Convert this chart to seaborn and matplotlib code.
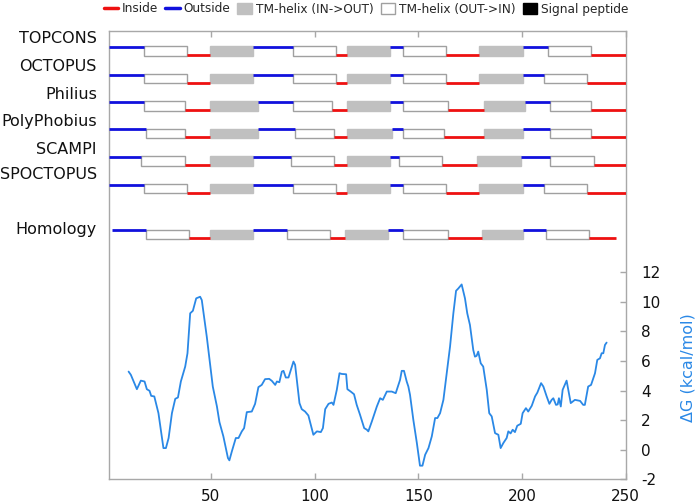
import numpy as np
import pandas as pd
import matplotlib
matplotlib.use("Agg")
import matplotlib.pyplot as plt
import seaborn as sns
from matplotlib.lines import Line2D
from matplotlib.patches import Patch

# ---------------- data ----------------
methods = ["TOPCONS", "OCTOPUS", "Philius", "PolyPhobius", "SCAMPI", "SPOCTOPUS", "Homology"]
# segment states between consecutive boundaries: o=outside, w=TM (OUT->IN), i=inside, g=TM (IN->OUT)
states = ["o", "w", "i", "g", "o", "w", "i", "g", "o", "w", "i", "g", "o", "w", "i"]
topcons_bounds = [1, 17.5, 38.5, 49.5, 70.5, 89.5, 110.5, 115.5, 136.5, 142.5, 163.5, 179.5, 200.5, 212.5, 233.5, 250]
octopus_bounds = [1, 17.5, 38.5, 49.5, 70.5, 89.5, 110.5, 115.5, 136.5, 142.5, 163.5, 179.5, 200.5, 210.5, 231.5, 250]
philius_bounds = [1, 17.5, 37.5, 49.5, 72.5, 89.5, 108.5, 115.5, 136.5, 142.5, 164.5, 181.5, 201.5, 213.5, 233.5, 250]
polyphobius_bounds = [1, 18.5, 37.5, 49.5, 72.5, 90.5, 109.5, 115.5, 137.5, 142.5, 162.5, 181.5, 200.5, 213.5, 233.5, 250]
scampi_bounds = [1, 16.5, 37.5, 49.5, 70.5, 88.5, 109.5, 115.5, 136.5, 140.5, 161.5, 178.5, 199.5, 213.5, 234.5, 250]
spoctopus_bounds = [1, 17.5, 38.5, 49.5, 70.5, 89.5, 110.5, 115.5, 136.5, 142.5, 163.5, 179.5, 200.5, 210.5, 231.5, 250]
homology_bounds = [2.5, 18.5, 39.5, 49.5, 70.5, 86.5, 107.5, 114.5, 135.5, 142.5, 164.5, 180.5, 200.5, 211.5, 232.5, 245.5]

dg_pos = [10.3, 11.4, 14.3, 16.2, 18.0, 19.1, 20.4, 21.2, 22.7, 24.7, 27.1, 28.3, 29.6, 31.2, 32.8, 34.1,
          35.5, 37.6, 38.7, 40.0, 41.3, 42.9, 44.8, 45.6, 48.0, 50.9, 52.9, 54.1, 56.0, 58.2, 58.9, 60.1,
          62.0, 63.3, 64.9, 66.0, 67.3, 69.7, 71.3, 72.9, 74.5, 76.1, 78.1, 79.4, 81.0, 81.8, 83.0, 84.2,
          85.0, 86.1, 87.4, 89.8, 90.6, 92.7, 93.8, 95.4, 97.0, 99.4, 101.1, 103.0, 104.0, 105.1, 106.7,
          108.3, 109.1, 110.7, 112.0, 113.1, 115.2, 115.8, 117.4, 119.0, 120.3, 121.9, 123.9, 125.2, 125.9,
          127.6, 130.0, 131.6, 132.9, 134.8, 137.2, 139.1, 141.2, 142.0, 143.1, 144.4, 145.2, 146.0, 147.6,
          149.3, 150.8, 152.0, 153.3, 154.9, 156.5, 158.1, 159.2, 160.5, 162.1, 163.7, 165.3, 166.9, 168.2,
          169.3, 170.9, 172.5, 173.6, 174.9, 176.5, 177.3, 178.1, 178.9, 180.1, 181.3, 183.0, 184.2, 185.4,
          187.0, 188.6, 189.7, 191.0, 192.6, 193.4, 194.5, 195.5, 196.6, 197.7, 199.4, 200.3, 201.9, 203.0,
          204.7, 206.3, 207.4, 209.2, 210.3, 211.9, 213.2, 214.3, 215.1, 216.4, 217.2, 217.8, 218.7, 219.6,
          221.5, 222.3, 223.5, 225.5, 228.0, 229.5, 230.3, 231.9, 233.3, 235.2, 236.3, 237.6, 238.4, 239.2,
          240.0, 240.8]
dg_val = [5.28, 5.06, 4.09, 4.67, 4.61, 4.09, 3.98, 3.64, 3.60, 2.47, 0.11, 0.11, 0.79, 2.47, 3.44, 3.53,
          4.61, 5.62, 6.52, 9.22, 9.39, 10.23, 10.34, 10.11, 7.64, 4.27, 2.92, 1.87, 0.90, -0.56, -0.72, -0.11,
          0.79, 0.79, 1.24, 1.46, 2.54, 2.58, 3.10, 4.23, 4.38, 4.77, 4.79, 4.65, 4.38, 4.61, 4.56, 5.28,
          5.33, 4.88, 4.88, 5.96, 5.73, 3.15, 2.74, 2.58, 2.31, 1.01, 1.24, 1.19, 1.46, 2.74, 3.10,
          3.19, 3.03, 4.05, 5.17, 5.12, 5.10, 4.09, 3.93, 3.75, 3.03, 2.36, 1.46, 1.35, 1.24,
          1.91, 2.92, 3.48, 3.37, 3.93, 3.93, 3.82, 4.72, 5.33, 5.33, 4.61, 4.27, 3.71, 2.02,
          0.45, -1.08, -1.08, -0.34, 0.11, 0.90, 2.14, 2.14, 2.47, 3.37, 5.17, 6.97, 9.22, 10.74,
          10.90, 11.17, 10.23, 9.22, 8.43, 6.74, 6.29, 6.34, 6.63, 5.84, 5.62, 4.05, 2.47, 2.25,
          1.12, 1.01, 0.11, 0.45, 0.79, 1.24, 1.10, 1.35, 1.19, 1.62, 1.75, 2.47, 2.81, 2.58,
          2.97, 3.60, 3.86, 4.50, 4.27, 3.60, 3.10, 3.37, 3.48, 3.03, 3.06, 3.48, 2.92, 4.05,
          4.67, 4.05, 3.15, 3.37, 3.30, 3.03, 3.03, 4.27, 4.38, 5.17, 6.07, 6.18, 6.52, 6.52,
          7.08, 7.24]

x_ticks = [50, 100, 150, 200, 250]
y_ticks = [-2, 0, 2, 4, 6, 8, 10, 12]
legend_labels = ["Inside", "Outside", "TM-helix (IN->OUT)", "TM-helix (OUT->IN)", "Signal peptide"]

# ---------------- style ----------------
RED = "#ee1111"
BLUE = "#1111dd"
GRAYFILL = "#c0c0c0"
EDGE = "#a0a0a0"
CURVE = "#2a88e6"
SPINE = "#a8a8a8"

sns.set_theme(style="white")
plt.rcParams["font.family"] = ["DejaVu Sans"]

W, H = 696, 503
fig = plt.figure(figsize=(W / 100, H / 100), dpi=100)
L, R, T, B = 109.3, 625.7, 31.0, 479.3
ax = fig.add_axes([L / W, 1 - B / H, (R - L) / W, (B - T) / H])

# dG curve
df = pd.DataFrame({"pos": dg_pos, "dg": dg_val})
sns.lineplot(data=df, x="pos", y="dg", ax=ax, color=CURVE, lw=1.3, sort=False, estimator=None)

# topology tracks
all_bounds = [topcons_bounds, octopus_bounds, philius_bounds, polyphobius_bounds,
              scampi_bounds, spoctopus_bounds, homology_bounds]
levels = [27.21, 25.33, 23.49, 21.66, 19.77, 17.90, 14.83]
label_y = [27.82, 25.90, 24.03, 22.16, 20.31, 18.57, 14.90]
gap = 0.52
for name, bounds, lv, ly in zip(methods, all_bounds, levels, label_y):
    for st, a, b in zip(states, bounds[:-1], bounds[1:]):
        if st == "o":
            ax.hlines(lv, a, b, color=BLUE, lw=2.0, zorder=3)
        elif st == "i":
            ax.hlines(lv - gap, a, b, color=RED, lw=2.0, zorder=3)
        else:
            fc = "white" if st == "w" else GRAYFILL
            ec = EDGE if st == "w" else GRAYFILL
            ax.barh(y=lv - gap / 2, width=b - a, left=a, height=gap + 0.1,
                    color=fc, edgecolor=ec, lw=1.0, zorder=2)
    ax.text(-0.024, ly, name, transform=ax.get_yaxis_transform(), ha="right", va="center",
            fontsize=11.5, color="#111111")

ax.set_xlim(1, 250)
ax.set_ylim(-2, 28.3)
ax.set_xlabel("")
ax.set_ylabel("")
ax.set_xticks(x_ticks)
ax.set_xticklabels([str(t) for t in x_ticks])
ax.yaxis.tick_right()
ax.set_yticks(y_ticks)
ax.set_yticklabels([str(t) for t in y_ticks])
ax.tick_params(axis="x", direction="in", top=True, bottom=True, length=4, width=1,
               color=SPINE, labelsize=11, pad=7, labelcolor="#111111")
ax.tick_params(axis="y", direction="in", right=True, left=False, length=4, width=1,
               color=SPINE, labelsize=11, pad=11, labelcolor="#111111")
for s in ax.spines.values():
    s.set_visible(True)
    s.set_color(SPINE)
    s.set_linewidth(1.0)

fig.text(688 / W, 1 - 368 / H, "ΔG (kcal/mol)", rotation=90, ha="center", va="center",
         fontsize=11.5, color=CURVE)

handles = [Line2D([0], [0], color=RED, lw=2.5),
           Line2D([0], [0], color=BLUE, lw=2.5),
           Patch(facecolor=GRAYFILL, edgecolor=GRAYFILL),
           Patch(facecolor="white", edgecolor=EDGE),
           Patch(facecolor="black", edgecolor="black")]
fig.legend(handles, legend_labels, loc="center right", bbox_to_anchor=(628 / W, 1 - 9 / H),
           ncol=5, frameon=False, fontsize=8.7, handlelength=1.2, handleheight=1.0,
           handletextpad=0.3, columnspacing=0.6, borderaxespad=0, borderpad=0)

fig.savefig("out.png", dpi=100)
